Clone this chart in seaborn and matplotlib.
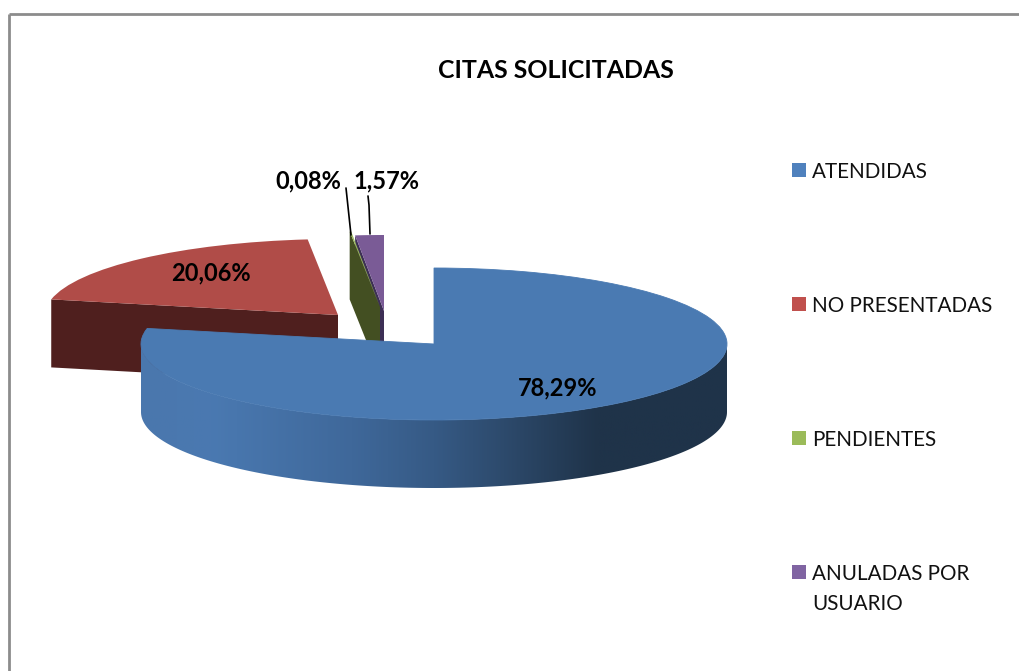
import numpy as np
import seaborn as sns
import matplotlib.pyplot as plt
from matplotlib.colors import LinearSegmentedColormap
from matplotlib.patches import Polygon, Rectangle
from matplotlib.transforms import Affine2D

# Chart values
categories = ["ATENDIDAS", "NO PRESENTADAS", "PENDIENTES", "ANULADAS POR\nUSUARIO"]
percentages = [78.29, 20.06, 0.08, 1.57]
title = "CITAS SOLICITADAS"

sns.set_theme(style="white")
plt.rcParams['font.family'] = ['Lato', 'DejaVu Sans']

# Colours: legend, top faces and side walls
legend_colours = sns.color_palette(["#4f81bd", "#c0504d", "#9bbb59", "#8064a2"])
top_colours = ["#4a7ab2", "#b04c48", "#9bbb59", "#7a5b96"]
wall_colours = [None, "#4f1f1e", "#434f22", "#3d2f55"]

# Pie geometry in pixels
rx, ry, depth = 293, 76, 68
centres = [(434, 344), (338, 315), (380, 307), (384, 311)]
wall_zorder = [None, 3, 4, 2]
label_positions = [(558, 388), (211, 273), (308, 181), (386, 181)]

fig, ax = plt.subplots(figsize=(10.19, 6.71), dpi=100)
fig.subplots_adjust(left=0, right=1, bottom=0, top=1)

# Let pie work out the angles, then squash each wedge into the 3D ellipse
wedges, _ = ax.pie(percentages, colors=top_colours, startangle=90, counterclock=False)
ax.set_aspect('auto')
ax.set_frame_on(False)


def rim_point(angle, centre):
    return centre[0] + rx * np.cos(np.radians(angle)), centre[1] - ry * np.sin(np.radians(angle))


for i, wedge in enumerate(wedges):
    wedge.set_transform(Affine2D().scale(rx, -ry).translate(*centres[i]) + ax.transData)
    wedge.set_zorder(10 if i == 0 else 4 + i)
    wedge.set_edgecolor(top_colours[i])
    wedge.set_linewidth(0.6 if i == 0 else 0)

    # Cut wall of the exploded slices, on the edge that faces the viewer
    if i > 0:
        corner = rim_point(wedge.theta2, centres[i])
        tip = centres[i]
        wall = [corner, tip, (tip[0], tip[1] + depth), (corner[0], corner[1] + depth)]
        ax.add_patch(Polygon(wall, color=wall_colours[i], lw=0, zorder=wall_zorder[i]))

# Curved front wall of the blue slice, with its horizontal gradient
angles = np.linspace(180, 360, 200)
upper = np.array([rim_point(a, centres[0]) for a in angles])
lower = upper[::-1] + [0, depth]
front_wall = Polygon(np.vstack([upper, lower]), closed=True, transform=ax.transData, fc="none", lw=0)
ax.add_patch(front_wall)
gradient = LinearSegmentedColormap.from_list("wall", [
    (0.0, "#4a77ad"), (0.12, "#4a79b1"), (0.36, "#3f689a"), (0.5, "#365a85"),
    (0.62, "#2d4a6c"), (0.78, "#1f3349"), (1.0, "#1f3349")])
image = ax.imshow(np.linspace(0, 1, 256).reshape(1, -1), cmap=gradient, aspect='auto',
                  extent=(centres[0][0] - rx, centres[0][0] + rx, centres[0][1] + ry + depth, centres[0][1]),
                  zorder=9)
image.set_clip_path(front_wall)

ax.set_xlim(0, 1019)
ax.set_ylim(671, 0)

# Percentage labels
for value, pos in zip(percentages, label_positions):
    ax.text(pos[0], pos[1], f"{value:.2f}%".replace(".", ","), ha="center", va="center",
            fontsize=17, fontweight="bold", color="black", zorder=20)

# Leader lines for the two small slices
ax.plot([346, 351], [188, 235], color="black", lw=1.2, zorder=20)
ax.plot([368, 369, 370], [196, 205, 234], color="black", lw=1.2, zorder=20)

ax.text(556, 70, title, ha="center", va="center", fontsize=17.9, fontweight="bold", color="black")

# Legend down the right side
for i, (name, colour) in enumerate(zip(categories, legend_colours)):
    y = 170 + 134 * i
    ax.add_patch(Rectangle((792, y - 7), 14, 14, color=colour, lw=0))
    ax.text(812, y - 8, name, ha="left", va="top", fontsize=14.9, color="#111111", linespacing=1.65)

# Outer chart frame, cut off by the image edges
ax.plot([9, 9], [671, 14], color="#8c8c8c", lw=2, solid_capstyle="butt")
ax.plot([9, 1019], [14, 14], color="#8c8c8c", lw=2, solid_capstyle="butt")

plt.savefig("out.png", dpi=100)
